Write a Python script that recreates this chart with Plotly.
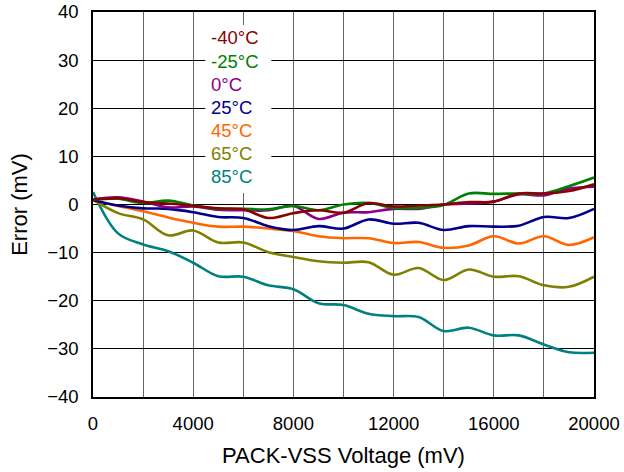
import plotly.graph_objects as go

voltage_mv = [0, 1000, 2000, 3000, 4000, 5000, 6000, 7000, 8000, 9000, 10000,
              11000, 12000, 13000, 14000, 15000, 16000, 17000, 18000, 19000, 20000]

err_m40 = [1.0, 1.3, 0.5, 0.2, -0.3, -0.8, -1.0, -2.8, -1.8, -1.2, -1.7,
           0.3, -0.4, -0.2, 0.0, 0.5, 0.6, 2.3, 2.3, 2.8, 4.2]
err_m25 = [1.0, 1.2, 0.3, 0.8, -0.2, -0.9, -0.9, -1.0, -0.3, -1.2, 0.0,
           0.3, -0.7, -0.7, -0.1, 2.3, 2.2, 2.3, 2.3, 3.8, 5.6]
err_0 = [1.0, 1.5, 0.6, -0.6, -0.4, -1.1, -1.2, -1.2, -0.3, -3.0, -1.7,
         -1.6, -0.9, -0.9, 0.0, 0.2, 0.6, 2.1, 1.9, 3.3, 3.7]
err_25 = [0.9, -0.2, -0.8, -0.9, -1.6, -2.6, -2.8, -4.5, -5.3, -4.5, -5.0,
          -3.1, -4.0, -3.8, -5.3, -4.5, -4.6, -4.4, -2.6, -2.8, -0.9]
err_45 = [0.9, -0.3, -1.4, -2.7, -3.8, -4.6, -4.6, -5.0, -5.5, -6.6, -7.0,
          -7.0, -8.0, -7.8, -9.0, -8.5, -6.6, -8.1, -6.6, -8.4, -6.8]
err_65 = [1.0, -1.8, -3.1, -6.4, -5.4, -7.9, -7.9, -9.9, -10.9, -11.8, -12.1,
          -12.0, -14.6, -13.2, -15.7, -13.5, -15.0, -14.9, -16.8, -17.1, -15.0]
err_85 = [2.6, -6.0, -8.3, -9.7, -12.1, -14.9, -15.0, -16.8, -17.6, -20.5, -20.9,
          -22.7, -23.2, -23.4, -26.3, -25.6, -27.2, -27.2, -29.1, -30.7, -30.8]

series_names = ["-40°C", "-25°C", "0°C", "25°C", "45°C", "65°C", "85°C"]
series_colors = ["#8B0000", "#008000", "#8B008B", "#00008B", "#FF6600", "#808000", "#008080"]
series_values = [err_m40, err_m25, err_0, err_25, err_45, err_65, err_85]

x_tick_vals = [0, 2000, 4000, 6000, 8000, 10000, 12000, 14000, 16000, 18000, 20000]
x_tick_text = ["0", "", "4000", "", "8000", "", "12000", "", "16000", "", "20000"]
y_tick_vals = [-40, -30, -20, -10, 0, 10, 20, 30, 40]

FONT = "Liberation Sans, Arial, sans-serif"

fig = go.Figure()
# draw from hottest to coldest so cold curves lie on top
for name, color, vals in reversed(list(zip(series_names, series_colors, series_values))):
    fig.add_trace(go.Scatter(
        x=voltage_mv, y=vals, mode="lines", name=name,
        line=dict(color=color, width=2.6, shape="spline", smoothing=1.0),
        showlegend=False,
    ))

# legend box (white background hiding the grid) with coloured text entries
fig.add_shape(type="rect", xref="x", yref="y", x0=4480, x1=7120, y0=2.4, y1=37.3,
              fillcolor="white", line=dict(width=0), layer="above")
legend_y = [34.6, 29.8, 25.0, 20.2, 15.4, 10.6, 5.9]
for name, color, ly in zip(series_names, series_colors, legend_y):
    fig.add_annotation(
        x=4620, y=ly, xref="x", yref="y", xanchor="left", yanchor="middle",
        text=name, showarrow=False, align="left",
        font=dict(family=FONT, size=18.5, color=color),
    )

fig.update_layout(
    width=624, height=472,
    margin=dict(l=93, r=30, t=12, b=75),
    paper_bgcolor="white", plot_bgcolor="white",
    font=dict(family=FONT, size=18.5, color="black"),
    xaxis=dict(
        range=[0, 20000], tickvals=x_tick_vals, ticktext=x_tick_text,
        showgrid=True, gridcolor="#666666", gridwidth=1.2,
        showline=True, linecolor="black", linewidth=1.5, mirror=True,
        zeroline=False, ticks="", automargin=False, ticklabelstandoff=9,
        title=dict(text="PACK-VSS Voltage (mV)", font=dict(size=22), standoff=15),
        tickfont=dict(size=18.5),
    ),
    yaxis=dict(
        range=[-40, 40], tickvals=y_tick_vals,
        showgrid=True, gridcolor="black", gridwidth=1,
        showline=True, linecolor="black", linewidth=1.5, mirror=True,
        zeroline=False, ticks="", automargin=False, ticklabelstandoff=9,
        title=dict(text="Error (mV)", font=dict(size=22), standoff=13),
        tickfont=dict(size=18.5),
    ),
)

fig.write_html("out.html")
